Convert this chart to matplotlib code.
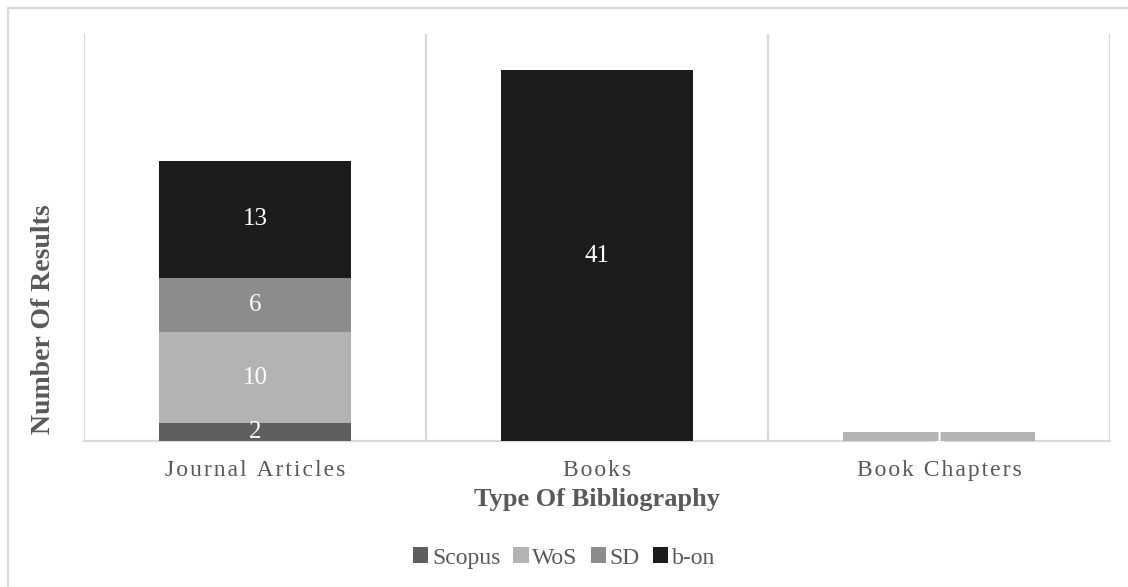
import numpy as np
import matplotlib
matplotlib.use("Agg")
import matplotlib.pyplot as plt
from matplotlib.patches import Rectangle

# bibliography types and per-database counts
categories = ["Journal Articles", "Books", "Book Chapters"]
series_names = ["Scopus", "WoS", "SD", "b-on"]
scopus = [2, 0, 0]
wos = [10, 0, 1]
sd = [6, 0, 0]
bon = [13, 41, 0]

COLORS = ["#5f5f5f", "#b3b3b3", "#8c8c8c", "#1c1c1c"]
GRID = "#d9d9d9"
TEXT = "#595959"

plt.rcParams["font.family"] = ["Liberation Serif", "DejaVu Serif"]


def spaced(s):
    # widen letter spacing with hair spaces
    return "\u200a".join(s)


fig = plt.figure(figsize=(11.28, 5.87), dpi=100)
ax = fig.add_axes([84 / 1128, 1 - 441 / 587, (1110 - 84) / 1128, (441 - 34) / 587])

x = np.arange(len(categories))
bottom = np.zeros(len(categories))
for name, vals, col in zip(series_names, [scopus, wos, sd, bon], COLORS):
    vals = np.array(vals, dtype=float)
    bars = ax.bar(x, vals, width=0.563, bottom=bottom, color=col,
                  label=name, zorder=3)
    for rect, v, b in zip(bars, vals, bottom):
        if v <= 0:
            continue
        t = ax.text(rect.get_x() + rect.get_width() / 2, b + v / 2, f"{int(v)}",
                    ha="center", va="center", color="white", fontsize=18,
                    zorder=4)
        t.set_clip_path(rect)
    bottom += vals

ax.set_xlim(-0.5, len(categories) - 0.5)
ax.set_ylim(0, 45)
ax.set_yticks([])
ax.set_xticks(x)
ax.set_xticklabels([spaced(c) for c in categories], fontsize=17, color=TEXT)
ax.tick_params(axis="x", length=0, pad=14)

for b in np.arange(-0.5, len(categories), 1.0):
    ax.axvline(b, color=GRID, lw=1.6, zorder=1)
for side in ["top", "right", "left"]:
    ax.spines[side].set_visible(False)
ax.spines["bottom"].set_color(GRID)
ax.spines["bottom"].set_linewidth(1.6)

ax.set_xlabel("Type Of Bibliography", fontsize=19, fontweight="bold",
              color=TEXT, labelpad=5)
ax.set_ylabel("Number Of Results", fontsize=20, fontweight="bold",
              color=TEXT)
ax.yaxis.set_label_coords(-0.027, 0.3)

ax.legend(loc="center", bbox_to_anchor=(0.5, 1 - 558 / 587),
          bbox_transform=fig.transFigure, ncol=4,
          frameon=False, fontsize=17, handlelength=0.65, handleheight=0.65,
          handletextpad=0.15, columnspacing=0.55, labelcolor=TEXT)

# chart border
fig.patches.append(Rectangle((8 / 1128, -0.05), 1.2, 1 - 8 / 587 + 0.05,
                             transform=fig.transFigure, fill=False,
                             edgecolor=GRID, lw=1.6))

fig.savefig("out.png", dpi=100)
